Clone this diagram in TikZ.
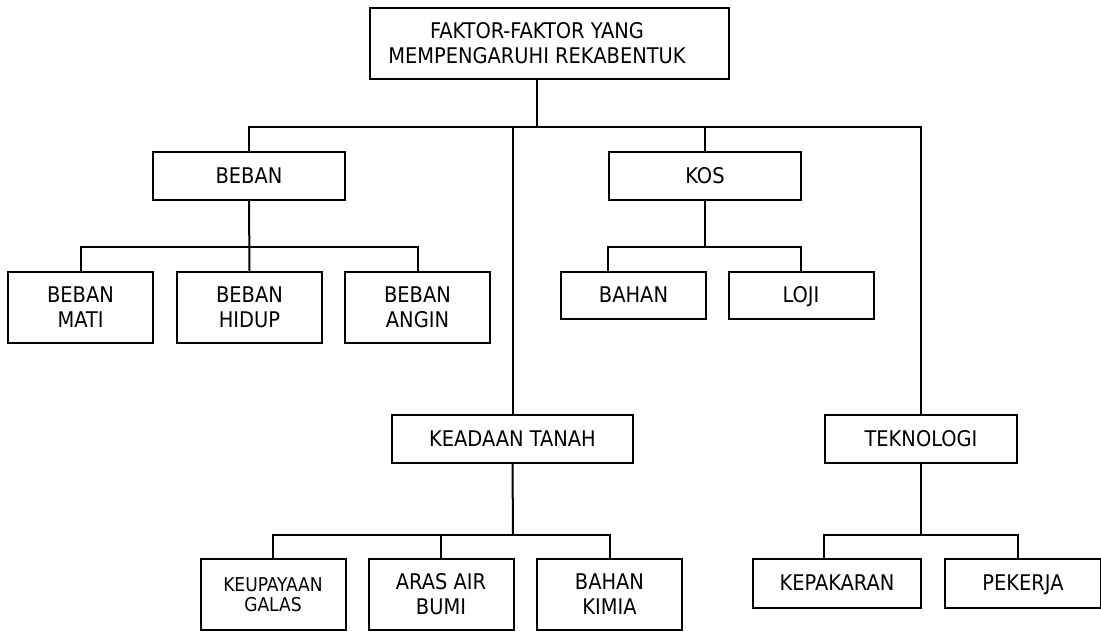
\documentclass[tikz,border=0pt]{standalone}
\usepackage{fontspec}
\setmainfont{DejaVu Sans Condensed}
\usetikzlibrary{positioning}

\begin{document}
\begin{tikzpicture}[x=0.5pt, y=-0.5pt, line width=1pt,
    box/.style={draw, align=center, inner sep=0pt, minimum width=96pt, minimum height=24pt,
      font=\fontsize{10.8}{12.5}\selectfont},
    oneline/.style={box, text height=0.74em, text depth=0.02em},
    leaf/.style={box, minimum width=72.5pt, minimum height=35.5pt}]
    \useasboundingbox (0,0) rectangle (1101,631);

    \node[box, minimum width=179.5pt, minimum height=35.5pt] (root) at (549.5, 43.5) {\hspace*{-12.5pt}FAKTOR-FAKTOR YANG\\\hspace*{-12.5pt}MEMPENGARUHI REKABENTUK};
    \node[oneline] (beban) at (249, 176) {BEBAN};
    \node[oneline] (kos) at (705, 176) {KOS};
    \node[oneline, minimum width=120.5pt] (keadaan) at (512.5, 439) {KEADAAN TANAH};
    \node[oneline] (teknologi) at (921, 439) {TEKNOLOGI};

    \node[leaf] (mati) at (80.5, 307.5) {BEBAN\\MATI};
    \node[leaf] (hidup) at (249.5, 307.5) {BEBAN\\HIDUP};
    \node[leaf] (angin) at (417.5, 307.5) {BEBAN\\ANGIN};
    \node[oneline, minimum width=72.5pt, minimum height=23.5pt] (bahan) at (633.5, 295.5) {BAHAN};
    \node[oneline, minimum width=72.5pt, minimum height=23.5pt] (loji) at (801, 295.5) {LOJI};
    \node[leaf, font=\fontsize{9.5}{10}\selectfont] (galas) at (273, 594.5) {KEUPAYAAN\\GALAS};
    \node[leaf] (aras) at (441, 594.5) {ARAS AIR\\BUMI};
    \node[leaf] (kimia) at (609.5, 594.5) {BAHAN\\KIMIA};
    \node[oneline, minimum width=84pt, minimum height=24.5pt] (kepakaran) at (837, 583.5) {KEPAKARAN};
    \node[oneline, minimum width=78pt, minimum height=24.5pt] (pekerja) at (1023, 583.5) {PEKERJA};

    \coordinate (rootbus) at (537, 127);
    \coordinate (bebanbus) at (248, 247);
    \coordinate (kosbus) at (705, 247);
    \coordinate (tanahbus) at (513, 535);
    \coordinate (teknobus) at (921, 535);

    \draw (root.south -| rootbus) -- (rootbus);
    \draw (beban.north) |- (rootbus) -| (teknologi.north);
    \draw (rootbus -| keadaan.north) -- (keadaan.north);
    \draw (rootbus -| kos.north) -- (kos.north);

    \draw (beban.south) -- (hidup.north);
    \draw (mati.north) |- (bebanbus) -| (angin.north);

    \draw (kos.south) -- (kosbus);
    \draw (bahan.north -| kos.west) |- (kosbus) -| (loji.north);

    \draw (keadaan.south) -- (tanahbus);
    \draw (galas.north) |- (tanahbus) -| (kimia.north);
    \draw (aras.north) -- (aras.north |- tanahbus);

    \draw (teknologi.south) -- (teknobus);
    \draw (kepakaran.north -| teknologi.west) |- (teknobus) -| (pekerja.north -| teknologi.east);
\end{tikzpicture}
\end{document}
